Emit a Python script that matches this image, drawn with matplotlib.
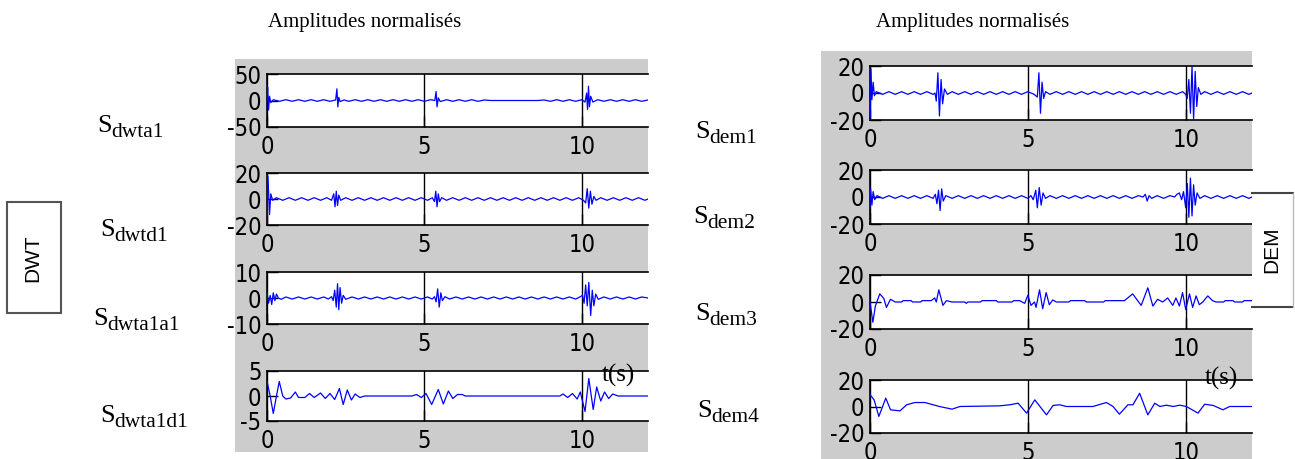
import numpy as np
import matplotlib
matplotlib.use("Agg")
import matplotlib.pyplot as plt
from matplotlib import font_manager as fm
from matplotlib.patches import Rectangle

plt.rcParams['axes.unicode_minus'] = False

# time axis of every panel (s)
x_ticks = [0, 5, 10]
x_max = 12.1

dwta1 = [(0.00, 0), (0.02, 25), (0.05, -18), (0.08, 8), (0.12, -4), (0.20, 1.5),
         (0.40, -1.5), (0.60, 1.5), (0.80, -1.5), (1.00, 1.5), (1.20, -1.5), (1.40, 1.5), (1.60, -1.5), (1.80, 1.5), (2.00, -1.5),
         (2.18, 1), (2.22, 22), (2.25, -12), (2.28, 6), (2.32, -2), (2.45, 1),
         (2.60, -1.5), (2.80, 1.5), (3.00, -1.5), (3.20, 1.5), (3.40, -1.5), (3.60, 1.5), (3.80, -1.5), (4.00, 1.5), (4.20, -1.5),
         (4.40, 1.5), (4.60, -1.5), (4.80, 1.5), (5.00, -1.5), (5.20, 1.5),
         (5.33, 0), (5.37, 17), (5.40, -12), (5.44, 5), (5.50, -2),
         (5.70, 1.5), (5.90, -1.5), (6.10, 1.5), (6.30, -1.5), (6.50, 1.5), (6.70, -1.5), (6.90, 1), (7.10, 0),
         (8.60, 0), (8.80, 1), (9.00, -1.5), (9.20, 1.5), (9.40, -1.5), (9.60, 1.5), (9.80, -1.5), (10.00, 1.5),
         (10.10, -3), (10.15, 14), (10.18, -17), (10.21, 27), (10.24, -12), (10.28, 8), (10.35, -3),
         (10.50, 1.5), (10.70, -1.5), (10.90, 1.5), (11.10, -1.5), (11.30, 1.5), (11.50, -1.5), (11.70, 1.5), (11.90, -1.5), (12.10, 1)]

dwtd1 = [(0.00, -20), (0.02, 18), (0.05, 6), (0.08, -12), (0.12, 4), (0.18, -1),
         (0.30, 1), (0.50, -1), (0.70, 1), (0.90, -1), (1.10, 1), (1.30, -1), (1.50, 1), (1.70, -1), (1.90, 1), (2.05, -1),
         (2.12, 4), (2.16, -6), (2.20, 6), (2.24, -5), (2.28, 3), (2.34, -1),
         (2.50, 1), (2.70, -1), (2.90, 1), (3.10, -1), (3.30, 1), (3.50, -1), (3.70, 1), (3.90, -1), (4.10, 1),
         (4.30, -1), (4.50, 1), (4.70, -1), (4.90, 1), (5.10, -1), (5.25, 1),
         (5.32, -2), (5.36, 6), (5.40, -6), (5.44, 4), (5.48, -2), (5.55, 1),
         (5.70, -1), (5.90, 1), (6.10, -1), (6.30, 1), (6.50, -1), (6.70, 1), (6.90, -1), (7.10, 1), (7.30, -1),
         (7.50, 1), (7.70, -1), (7.90, 1), (8.10, -1), (8.30, 1), (8.50, -1), (8.70, 1), (8.90, -1), (9.10, 1),
         (9.30, -1), (9.50, 1), (9.70, -1), (9.90, 1), (10.05, -1),
         (10.12, -3), (10.17, 8), (10.22, -7), (10.27, 6), (10.32, -4), (10.38, 2), (10.45, -1),
         (10.60, 1), (10.80, -1), (11.00, 1), (11.20, -1), (11.40, 1), (11.60, -1), (11.80, 1), (12.00, -1), (12.10, 0)]

dwta1a1 = [(0.00, 2), (0.05, -2), (0.10, 1), (0.15, -2.5), (0.20, 2), (0.25, -1), (0.30, 1.5), (0.36, 0), (0.45, -0.5), (0.60, 0.4),
           (0.80, -0.4), (1.00, 0.4), (1.20, -0.4), (1.40, 0.4), (1.60, -0.4), (1.80, 0.4), (1.95, -0.4),
           (2.05, 0.5), (2.10, -1), (2.15, 3), (2.20, -3.5), (2.24, 5.5), (2.28, -4.5), (2.32, 4), (2.37, -2), (2.42, 1), (2.50, -0.5),
           (2.70, 0.4), (2.90, -0.4), (3.10, 0.4), (3.30, -0.4), (3.50, 0.4), (3.70, -0.4), (3.90, 0.4), (4.10, -0.4),
           (4.30, 0.4), (4.50, -0.4), (4.70, 0.4), (4.90, -0.4), (5.10, 0.4), (5.25, -0.4),
           (5.32, 0.5), (5.37, -1.5), (5.42, 3.5), (5.47, -3.5), (5.52, 2), (5.57, -1), (5.65, 0.5),
           (5.80, -0.4), (6.00, 0.4), (6.20, -0.4), (6.40, 0.4), (6.60, -0.4), (6.80, 0.4), (7.00, -0.4), (7.20, 0.4),
           (7.40, -0.4), (7.60, 0.4), (7.80, -0.4), (8.00, 0.4), (8.20, -0.4), (8.40, 0.4), (8.60, -0.4), (8.80, 0.4),
           (9.00, -0.4), (9.20, 0.4), (9.40, -0.4), (9.60, 0.4), (9.80, -0.4), (9.95, 0.5),
           (10.02, 1), (10.07, -2), (10.12, 5), (10.17, -3), (10.22, 6), (10.28, -6.7), (10.33, 3), (10.38, -3), (10.44, 1.5), (10.52, -0.5),
           (10.70, 0.4), (10.90, -0.4), (11.10, 0.4), (11.30, -0.4), (11.50, 0.4), (11.70, -0.4), (11.90, 0.4), (12.10, 0)]

dwta1d1 = [(0.00, 3), (0.10, 0), (0.20, -3.5), (0.30, 0), (0.39, 2.9), (0.50, 0), (0.60, -0.6), (0.75, -0.4), (0.90, 0.8),
           (1.00, -0.3), (1.20, -0.3), (1.35, 0.5), (1.50, -0.3), (1.70, 0.6), (1.85, -0.5), (2.00, 0.5), (2.15, -0.7),
           (2.30, 1.5), (2.42, -1.7), (2.55, 1.2), (2.68, -0.8), (2.80, 0.4), (2.95, -0.3), (3.10, 0),
           (4.60, 0), (4.75, 0.3), (4.90, -0.3), (5.05, 0.5), (5.23, -1.7), (5.44, 1.3), (5.60, -1.6), (5.76, 1.0),
           (5.90, -0.5), (6.05, 0.3), (6.20, 0.3), (6.30, 0),
           (9.30, 0), (9.40, 0.4), (9.55, -0.3), (9.70, 0.5), (9.85, -0.6), (9.95, 0.8), (10.10, -3.1), (10.22, 3.5),
           (10.36, -2.7), (10.47, 1.8), (10.60, -1.0), (10.72, 0.8), (10.85, -0.5), (10.98, 0.4), (11.15, 0), (12.10, 0)]

dem1 = [(0.00, 0), (0.01, -18), (0.03, 18), (0.06, -5), (0.10, 8), (0.14, -2), (0.20, 1),
        (0.40, -1), (0.60, 1), (0.80, -1), (1.00, 1), (1.20, -1), (1.40, 1), (1.60, -1), (1.80, 1), (2.00, -1),
        (2.06, 0), (2.10, -6), (2.15, 15), (2.20, -17), (2.25, 10), (2.30, -8), (2.36, 3), (2.45, -1),
        (2.60, 1), (2.80, -1), (3.00, 1), (3.20, -1), (3.40, 1), (3.60, -1), (3.80, 1), (4.00, -1), (4.20, 1),
        (4.40, -1), (4.60, 1), (4.80, -1), (5.00, 1), (5.20, -1),
        (5.30, -3), (5.35, 15), (5.40, -15), (5.45, 8), (5.50, -4), (5.56, 1),
        (5.70, -1), (5.90, 1), (6.10, -1), (6.30, 1), (6.50, -1), (6.70, 1), (6.90, -1), (7.10, 1), (7.30, -1),
        (7.50, 1), (7.70, -1), (7.90, 1), (8.10, -1), (8.30, 1), (8.50, -1), (8.70, 1), (8.90, -1), (9.10, 1),
        (9.30, -1), (9.50, 1), (9.70, -1), (9.90, 1), (10.00, -1),
        (10.05, -4), (10.10, 10), (10.15, -15), (10.20, 20), (10.25, -20), (10.30, 16), (10.35, -10), (10.40, 4), (10.48, -1),
        (10.60, 1), (10.80, -1), (11.00, 1), (11.20, -1), (11.40, 1), (11.60, -1), (11.80, 1), (12.00, -1), (12.10, 0)]

dem2 = [(0.00, -8), (0.02, 6), (0.06, -6), (0.10, 4), (0.15, -2), (0.22, 1),
        (0.40, -1), (0.60, 1), (0.80, -1), (1.00, 1), (1.20, -1), (1.40, 1), (1.60, -1), (1.80, 1), (2.00, -1),
        (2.07, 2), (2.12, -5), (2.17, 5), (2.22, -10), (2.27, 6), (2.32, -3), (2.40, 1),
        (2.60, -1), (2.80, 1), (3.00, -1), (3.20, 1), (3.40, -1), (3.60, 1), (3.80, -1), (4.00, 1), (4.20, -1),
        (4.40, 1), (4.60, -1), (4.80, 1), (5.00, -1),
        (5.10, 1), (5.17, -2), (5.25, 5), (5.30, -8), (5.36, 7), (5.42, -6), (5.48, 3), (5.56, -1),
        (5.70, 1), (5.90, -1), (6.10, 1), (6.30, -1), (6.50, 1), (6.70, -1), (6.90, 1), (7.10, -1), (7.30, 1),
        (7.50, -1), (7.70, 1), (7.90, -1), (8.10, 1), (8.30, -1), (8.50, 1),
        (8.65, 0), (8.72, 2), (8.78, -3), (8.84, 1), (8.92, -1),
        (9.10, 1), (9.30, -1), (9.50, 1), (9.65, 0), (9.72, 2), (9.80, 3), (9.87, -2), (9.93, 4),
        (10.00, -8), (10.05, 10), (10.10, -15), (10.15, 14), (10.20, -14), (10.25, 9), (10.30, -6), (10.36, 3), (10.45, -1),
        (10.60, 1), (10.80, -1), (11.00, 1), (11.20, -1), (11.40, 1), (11.60, -1), (11.80, 1), (12.00, -1), (12.10, 0)]

dem3 = [(0.00, 0), (0.09, -15), (0.17, -3), (0.31, 6), (0.44, 2.5), (0.52, -4), (0.65, 2), (0.80, 0), (1.00, 0),
        (1.05, 1), (1.30, 1), (1.35, 0), (1.60, 0), (1.65, 1), (1.94, 1),
        (2.05, 3), (2.10, 0), (2.18, 9), (2.31, -2.5), (2.42, 1), (2.60, 0), (3.00, 0), (3.05, -1), (3.10, 0),
        (3.50, 0), (3.55, 1), (4.00, 1), (4.05, 0), (4.50, 0), (4.55, 1), (4.74, 1),
        (4.90, -1), (5.00, 5), (5.10, -2.5), (5.21, 0), (5.26, -4), (5.37, 9), (5.47, -5), (5.58, 7), (5.68, -2),
        (5.79, 1.5), (5.90, 0), (6.30, 0), (6.35, 1), (6.80, 1), (6.85, 0), (7.40, 0), (7.45, 1), (8.06, 1),
        (8.32, 6), (8.59, -2.5), (8.80, 10.5), (8.96, -3), (9.11, 2), (9.27, 0), (9.43, 3), (9.59, -2.5), (9.69, 3),
        (9.80, -3), (9.90, 7), (10.00, -5.5), (10.12, 6), (10.22, -4), (10.33, 4.5), (10.43, -2), (10.54, 0),
        (10.70, 4.5), (10.85, 1), (10.96, 0), (11.20, 0), (11.25, 1), (11.50, 1), (11.55, 0), (11.80, 0), (11.85, 1), (12.10, 1)]

dem4 = [(0.00, 9), (0.13, 5), (0.28, -7.5), (0.50, 6.3), (0.65, -2.5), (0.95, -3.3), (1.16, 1.3), (1.42, 3),
        (1.74, 3), (2.00, 1.3), (2.20, 0), (2.60, -2), (2.85, 0), (4.11, 0.5), (4.43, 1.3), (4.69, 2.5), (4.96, -5),
        (5.22, 5), (5.59, -6.3), (5.80, 0.8), (6.01, 1.3), (6.22, 0), (7.06, 0), (7.49, 3), (7.70, 0), (7.90, -5.8),
        (8.17, 1.3), (8.33, 1.3), (8.54, 10), (8.80, -6.3), (9.02, 2.5), (9.18, 0), (9.39, 1), (9.60, 0), (9.81, 1),
        (10.02, 0), (10.39, -5), (10.60, 1.7), (10.87, 0.8), (11.18, -2.5), (11.39, 0), (12.10, 0)]

left_signals = [dwta1, dwtd1, dwta1a1, dwta1d1]
left_limits = [50, 20, 10, 5]
left_names = ['dwta1', 'dwtd1', 'dwta1a1', 'dwta1d1']
right_signals = [dem1, dem2, dem3, dem4]
right_limits = [20, 20, 20, 20]
right_names = ['dem1', 'dem2', 'dem3', 'dem4']

W, H = 1295, 459
fig = plt.figure(figsize=(W / 100, H / 100), dpi=100)
fig.patch.set_facecolor('white')

serif = ['Liberation Serif', 'DejaVu Serif']


def pick_narrow():
    # matlab tick labels are tall and narrow: take a narrow face if one is there
    for fam, stretch in [('Liberation Sans Narrow', 'normal'), ('DejaVu Sans', 'condensed'),
                         ('Roboto', 'condensed'), ('Open Sans', 'condensed')]:
        try:
            path = fm.findfont(fm.FontProperties(family=fam, stretch=stretch), fallback_to_default=False)
        except ValueError:
            continue
        if 'arrow' in path or 'ondensed' in path:
            return fm.FontProperties(family=fam, stretch=stretch, size=17)
    return fm.FontProperties(family='Liberation Sans', size=15)


tick_prop = pick_narrow()


def box(x0, y0, x1, y1):
    # pixel box (top-left origin) -> figure fraction
    return [x0 / W, 1 - y1 / H, (x1 - x0) / W, (y1 - y0) / H]


# grey matlab figure backgrounds
for x0, y0, x1, y1 in [(235, 59, 648, 452), (821, 51, 1252, 459)]:
    fig.add_artist(Rectangle((x0 / W, 1 - y1 / H), (x1 - x0) / W, (y1 - y0) / H,
                             transform=fig.transFigure, fc='#cccccc', ec='none', zorder=-1))

left_rows = [(74, 127), (173, 225), (272, 324), (371, 421)]
right_rows = [(66, 120), (170, 224), (275, 329), (380, 433)]


def draw_panel(x0, x1, rows, signals, limits):
    for (y0, y1), sig, lim in zip(rows, signals, limits):
        ax = fig.add_axes(box(x0, y0, x1, y1))
        t, v = np.array(sig).T
        ax.plot(t, v, color='#0000ff', lw=0.9, zorder=3)
        ax.set_xlim(0, x_max)
        ax.set_ylim(-lim, lim)
        ax.set_xticks(x_ticks)
        ax.set_yticks([-lim, 0, lim])
        ax.xaxis.grid(True, color='black', lw=1.0)
        ax.set_axisbelow(True)
        ax.spines['right'].set_visible(False)
        for s in ['left', 'top', 'bottom']:
            ax.spines[s].set_linewidth(1.2)
        ax.tick_params(axis='both', direction='in', length=8, width=1.0)
        ax.tick_params(axis='x', pad=6)
        ax.tick_params(axis='y', pad=4)
        for lab in ax.get_xticklabels() + ax.get_yticklabels():
            lab.set_fontproperties(tick_prop)


draw_panel(267, 648, left_rows, left_signals, left_limits)
draw_panel(870, 1252, right_rows, right_signals, right_limits)

# overlay in pixel coordinates for the annotations
ov = fig.add_axes([0, 0, 1, 1])
ov.set_xlim(0, W)
ov.set_ylim(H, 0)
ov.axis('off')
ov.set_zorder(5)

ov.text(268, 26.7, 'Amplitudes normalisés', fontsize=15, family=serif, va='baseline')
ov.text(876, 26.7, 'Amplitudes normalisés', fontsize=15, family=serif, va='baseline')

label_pos_left = [(97, 131.7), (100, 236), (93, 325), (100, 421.7)]
label_pos_right = [(695, 138), (693, 223), (695, 320), (697, 417)]
for names, positions in [(left_names, label_pos_left), (right_names, label_pos_right)]:
    for name, (x, y) in zip(names, positions):
        s = ov.text(x, y, 'S', fontsize=19, family=serif, va='baseline')
        ov.annotate(name, xy=(1, 0), xycoords=s, fontsize=15.5, family=serif, va='baseline')

ov.text(602, 381.7, 't(s)', fontsize=18, family=serif, va='baseline')
ov.text(1205, 385, 't(s)', fontsize=18, family=serif, va='baseline')

# method boxes
ov.add_patch(Rectangle((7, 202), 54, 111, fc='white', ec='#555555', lw=1.5))
ov.text(33, 258, 'DWT', rotation=90, ha='center', va='center', fontsize=15,
        family=['Liberation Sans', 'DejaVu Sans'])
ov.add_patch(Rectangle((1252, 193), 41, 114, fc='white', ec='none'))
ov.plot([1252, 1293], [193, 193], color='#444444', lw=1.5)
ov.plot([1252, 1293], [307, 307], color='#444444', lw=1.5)
ov.plot([1293, 1293], [193, 307], color='#bbbbbb', lw=1.0)
ov.text(1272, 250, 'DEM', rotation=90, ha='center', va='center', fontsize=15,
        family=['Liberation Sans', 'DejaVu Sans'])

fig.savefig('out.png', dpi=100)
